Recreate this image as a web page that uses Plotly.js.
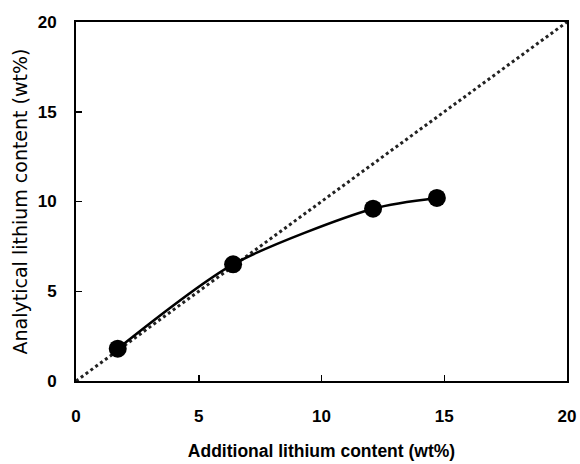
<!DOCTYPE html>
<html>
<head>
<meta charset="utf-8">
<script src="https://cdn.plot.ly/plotly-3.0.1.min.js"></script>
<style>html,body{margin:0;padding:0;background:#fff;}#chart{width:580px;height:464px;}</style>
</head>
<body>
<div id="chart"></div>
<script>
// Data
var additionalLi = [1.7, 6.4, 12.1, 14.7];
var analyticalLi = [1.8, 6.5, 9.6, 10.2];
var identityX = [0, 20];
var identityY = [0, 20];
var tickVals = [0, 5, 10, 15, 20];
var xTitle = "Additional lithium content (wt%)";
var yTitle = "Analytical lithium content (wt%)";

var traces = [
  {
    x: identityX, y: identityY, mode: 'lines', type: 'scatter',
    line: {color: '#222', width: 3, dash: 'dot'}, hoverinfo: 'skip'
  },
  {
    x: additionalLi, y: analyticalLi, mode: 'lines', type: 'scatter',
    line: {color: '#000', width: 2.5, shape: 'spline', smoothing: 0.75}
  },
  {
    x: additionalLi, y: analyticalLi, mode: 'markers', type: 'scatter',
    marker: {color: '#000', size: 18, line: {width: 0}}
  }
];

var layout = {
  width: 580, height: 464,
  margin: {l: 76, r: 13, t: 22, b: 83},
  showlegend: false,
  paper_bgcolor: '#fff', plot_bgcolor: '#fff',
  font: {family: 'Liberation Sans, Arial, sans-serif', color: '#000'},
  xaxis: {
    range: [0, 20], tickvals: tickVals, ticktext: tickVals.map(String),
    ticks: 'inside', ticklen: 6, tickwidth: 1.5, tickcolor: '#000',
    showline: true, linecolor: '#000', linewidth: 2, mirror: true,
    showgrid: false, zeroline: false,
    tickfont: {size: 17, weight: 'bold'},
    ticklabelstandoff: 19,
    title: {text: xTitle, font: {size: 17.5, weight: 'bold'}, standoff: 19}
  },
  yaxis: {
    range: [0, 20], tickvals: tickVals, ticktext: tickVals.map(String),
    ticks: 'inside', ticklen: 6, tickwidth: 1.5, tickcolor: '#000',
    showline: true, linecolor: '#000', linewidth: 2, mirror: true,
    showgrid: false, zeroline: false,
    tickfont: {size: 17, weight: 'bold'},
    ticklabelstandoff: 14,
    title: {text: yTitle, font: {family: 'DejaVu Sans, sans-serif', size: 19}, standoff: 5}
  }
};

Plotly.newPlot('chart', traces, layout, {displayModeBar: false, staticPlot: true});
</script>
</body>
</html>
